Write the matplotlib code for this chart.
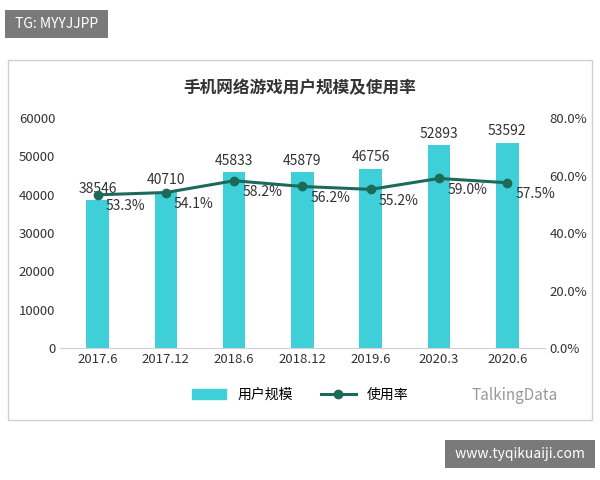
import matplotlib
matplotlib.use("Agg")
import matplotlib.pyplot as plt
from matplotlib.patches import Rectangle
from matplotlib.lines import Line2D

plt.rcParams['font.family'] = ['Noto Sans CJK SC', 'DejaVu Sans']

categories = ["2017.6", "2017.12", "2018.6", "2018.12", "2019.6", "2020.3", "2020.6"]
users = [38546, 40710, 45833, 45879, 46756, 52893, 53592]
rate = [53.3, 54.1, 58.2, 56.2, 55.2, 59.0, 57.5]

bar_c = "#3FCFD9"
line_c = "#1D6A5B"

fig = plt.figure(figsize=(6, 4.8), dpi=100)
fig.patches.append(Rectangle((8/600, 60/480), 584/600, 360/480, transform=fig.transFigure,
                             fill=False, edgecolor="#d0d0d0", lw=1))
ax = fig.add_axes([0.1, 0.275, 0.808, 0.479])
x = range(len(categories))
ax.bar(x, users, width=0.33, color=bar_c)
ax.set_ylim(0, 60000)
ax.set_yticks(range(0, 60001, 10000))
ax.set_xticks(list(x))
ax.set_xticklabels(categories)
ax.set_xlim(-0.55, 6.55)
for s in ["top", "right", "left"]:
    ax.spines[s].set_visible(False)
ax.spines["bottom"].set_color("#d0d0d0")
ax.tick_params(length=0, labelsize=9.5, colors="#333333")
for i, v in enumerate(users):
    ax.text(i, v + 1200, str(v), ha="center", va="bottom", fontsize=10, color="#333333")

ax2 = ax.twinx()
ax2.plot(list(x), rate, color=line_c, lw=2.2, marker="o", ms=6)
ax2.set_ylim(0, 80)
ax2.set_yticks(range(0, 81, 20))
ax2.set_yticklabels([f"{t:.1f}%" for t in range(0, 81, 20)])
for s in ["top", "right", "left", "bottom"]:
    ax2.spines[s].set_visible(False)
ax2.tick_params(length=0, labelsize=9.5, colors="#333333")
for i, v in enumerate(rate):
    ax2.text(i + 0.12, v - 1.5, f"{v:.1f}%", ha="left", va="top", fontsize=10, color="#333333")

fig.text(0.5, 0.817, "手机网络游戏用户规模及使用率", ha="center", va="center",
         fontsize=12, fontweight="bold", color="#333333")

handles = [Rectangle((0, 0), 1, 1, color=bar_c),
           Line2D([0], [0], color=line_c, lw=2.2, marker="o", ms=6)]
fig.legend(handles, ["用户规模", "使用率"], loc="center", bbox_to_anchor=(0.5, 0.177),
           ncol=2, frameon=False, fontsize=10, handlelength=2.5)

fig.text(0.785, 0.177, "TalkingData", ha="left", va="center", fontsize=11, color="#999999")
fig.text(12/600, 1 - 24/480, " TG: MYYJJPP ", ha="left", va="center", fontsize=10, color="white",
         bbox=dict(facecolor="#7a7a7a", edgecolor="none", pad=5))
fig.text(0.99 - 0.01, 1 - 454/480, " www.tyqikuaiji.com ", ha="right", va="center", fontsize=10,
         color="white", bbox=dict(facecolor="#7a7a7a", edgecolor="none", pad=5))

fig.savefig("out.png", dpi=100)
